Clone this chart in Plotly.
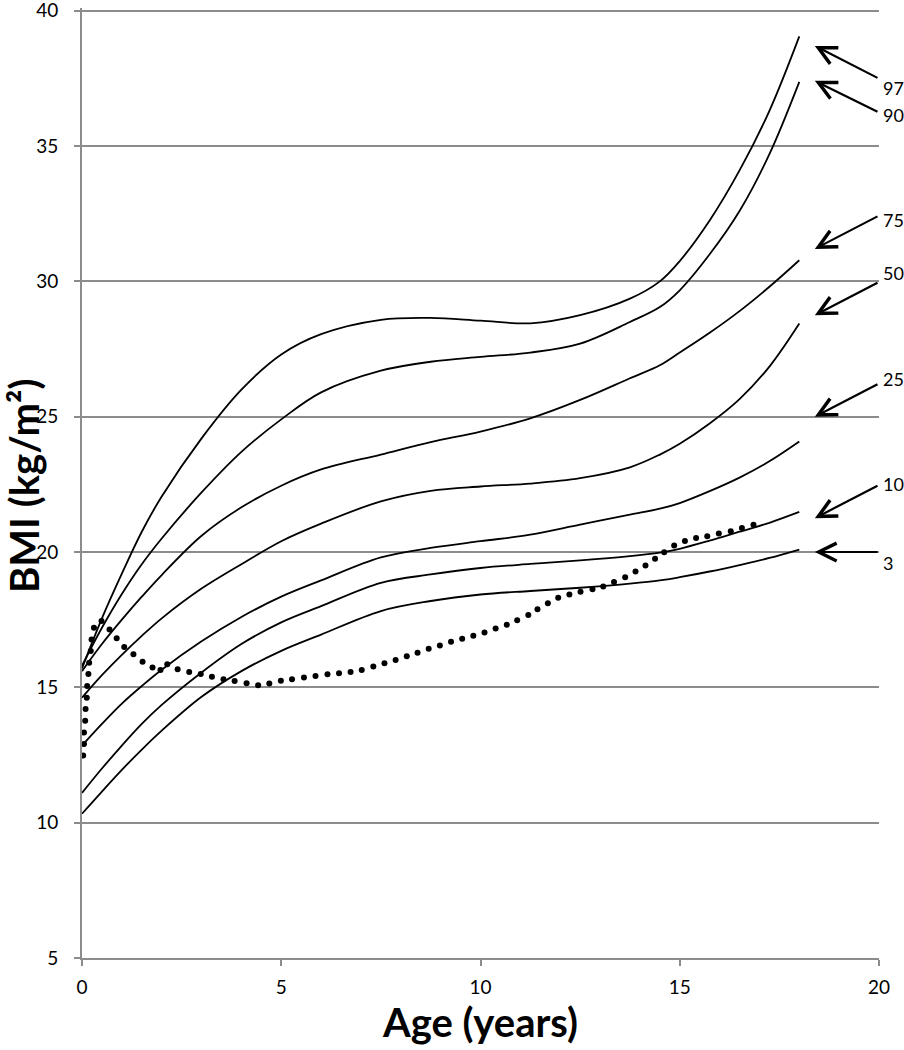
import plotly.graph_objects as go

# ---------------- data ----------------
ages = [0, 0.5, 1, 1.5, 2, 3, 4, 5, 6, 7.5, 8.75, 10, 11.25, 12.5, 13.75, 14.5, 15, 15.75, 16.5, 17.25, 18]

p97 = [15.7, 17.55, 19.2, 20.75, 22.05, 24.2, 26.0, 27.3, 28.05, 28.58, 28.65, 28.55, 28.45, 28.75, 29.36, 30.0, 30.75, 32.25, 34.1, 36.3, 39.05]
p90 = [15.8, 17.2, 18.45, 19.55, 20.5, 22.2, 23.7, 24.9, 25.9, 26.7, 27.03, 27.21, 27.37, 27.7, 28.5, 29.05, 29.67, 31.0, 32.6, 34.7, 37.37]
p75 = [15.6, 16.6, 17.5, 18.35, 19.15, 20.6, 21.65, 22.45, 23.05, 23.6, 24.06, 24.45, 24.94, 25.62, 26.42, 26.9, 27.37, 28.1, 28.9, 29.8, 30.78]
p50 = [14.62, 15.45, 16.2, 16.9, 17.55, 18.65, 19.55, 20.4, 21.05, 21.87, 22.26, 22.42, 22.53, 22.73, 23.13, 23.6, 24.0, 24.75, 25.65, 26.85, 28.44]
p25 = [12.85, 13.65, 14.4, 15.05, 15.65, 16.7, 17.6, 18.35, 18.95, 19.8, 20.15, 20.4, 20.64, 21.01, 21.38, 21.6, 21.81, 22.25, 22.75, 23.35, 24.08]
p10 = [11.1, 12.0, 12.85, 13.65, 14.35, 15.55, 16.6, 17.4, 18.0, 18.86, 19.17, 19.41, 19.56, 19.69, 19.85, 19.98, 20.12, 20.42, 20.75, 21.08, 21.48]
p3 = [10.33, 11.15, 11.95, 12.7, 13.4, 14.65, 15.6, 16.35, 16.95, 17.82, 18.19, 18.43, 18.56, 18.68, 18.83, 18.95, 19.07, 19.28, 19.52, 19.78, 20.09]

percentile_names = ["97", "90", "75", "50", "25", "10", "3"]
percentile_curves = [p97, p90, p75, p50, p25, p10, p3]

# patient BMI (dotted series)
patient_age = [0.03, 0.05, 0.05, 0.08, 0.09, 0.12, 0.13, 0.16, 0.18, 0.22, 0.24, 0.30, 0.49, 0.69, 0.87,
               1.06, 1.29, 1.52, 1.77, 1.97, 2.14, 2.40, 2.69, 2.98, 3.26, 3.55, 3.83, 4.13, 4.42, 4.70,
               4.99, 5.27, 5.57, 5.86, 6.16, 6.45, 6.74, 7.02, 7.31, 7.59, 7.87, 8.15, 8.42, 8.70, 8.98,
               9.26, 9.54, 9.82, 10.10, 10.38, 10.66, 10.92, 11.20, 11.43, 11.69, 11.95, 12.23, 12.51,
               12.81, 13.08, 13.35, 13.63, 13.89, 14.14, 14.38, 14.61, 14.86, 15.13, 15.41, 15.69, 15.98,
               16.28, 16.56, 16.85]
patient_bmi = [12.48, 12.91, 13.33, 13.77, 14.20, 14.62, 15.05, 15.49, 15.91, 16.34, 16.77, 17.20, 17.45,
               17.14, 16.81, 16.49, 16.22, 15.95, 15.73, 15.64, 15.85, 15.67, 15.57, 15.49, 15.39, 15.30,
               15.23, 15.15, 15.08, 15.14, 15.24, 15.30, 15.36, 15.42, 15.48, 15.52, 15.57, 15.64, 15.77,
               15.89, 16.01, 16.15, 16.28, 16.43, 16.55, 16.68, 16.80, 16.91, 17.03, 17.17, 17.31, 17.48,
               17.67, 17.89, 18.11, 18.31, 18.43, 18.53, 18.62, 18.73, 18.89, 19.07, 19.28, 19.50, 19.75,
               19.99, 20.24, 20.41, 20.52, 20.58, 20.68, 20.77, 20.89, 21.01]

# percentile arrow callouts (BMI values the arrows point at / start from / label at)
arrow_tip_age = 18.39
arrow_tail_age = 20
arrow_tip_bmi = [38.7, 37.41, 31.2, 28.75, 25.0, 21.25, 20.0]
arrow_tail_bmi = [37.49, 36.24, 32.43, 29.98, 26.23, 22.48, 20.0]
label_bmi = [37.13, 36.13, 32.26, 30.31, 26.4, 22.5, 19.59]

x_ticks = [0, 5, 10, 15, 20]
y_ticks = [5, 10, 15, 20, 25, 30, 35, 40]

# ---------------- figure ----------------
FONT = "Lato"
GRID = "#8c8c8c"

fig = go.Figure()
for name, vals in zip(percentile_names, percentile_curves):
    fig.add_trace(go.Scatter(
        x=ages, y=vals, mode="lines", name=name,
        line=dict(color="black", width=1.8, shape="spline", smoothing=1.0),
        showlegend=False, hoverinfo="skip"))

fig.add_trace(go.Scatter(
    x=patient_age, y=patient_bmi, mode="markers", name="patient",
    marker=dict(color="black", size=6, line=dict(width=0)),
    showlegend=False, hoverinfo="skip"))

for name, tip, tail, lab in zip(percentile_names, arrow_tip_bmi, arrow_tail_bmi, label_bmi):
    fig.add_annotation(x=arrow_tip_age, y=tip, ax=arrow_tail_age, ay=tail,
                       xref="x", yref="y", axref="x", ayref="y",
                       text="", showarrow=True, arrowhead=5, arrowsize=1.6,
                       arrowwidth=2.2, arrowcolor="black", standoff=0, startstandoff=0)
    fig.add_annotation(x=arrow_tail_age, y=lab, xref="x", yref="y", text=name,
                       showarrow=False, xanchor="left", yanchor="middle", xshift=2,
                       font=dict(family=FONT, size=18, color="black"))

# y-axis title placed as a rotated annotation for exact positioning
fig.add_annotation(text="<b>BMI (kg/m²)</b>", textangle=-90,
                   xref="paper", yref="paper", x=-0.0725, y=0.497,
                   xanchor="center", yanchor="middle", showarrow=False,
                   font=dict(family=FONT, size=40, color="black"))

fig.update_layout(
    width=904, height=1050,
    margin=dict(l=82, r=25, t=8, b=92),
    paper_bgcolor="white", plot_bgcolor="white",
    font=dict(family=FONT, color="black"),
)
fig.update_xaxes(
    range=[0, 20], tickvals=x_ticks, showgrid=False, zeroline=False,
    showline=True, linecolor=GRID, linewidth=2, automargin=False,
    ticks="outside", ticklen=6, tickwidth=2, tickcolor=GRID,
    tickfont=dict(family=FONT, size=19, color="black"), ticklabelstandoff=5,
    ticklabeloverflow="allow",
    title=dict(text="<b>Age (years)</b>", font=dict(family=FONT, size=40, color="black"), standoff=0),
)
fig.update_yaxes(
    range=[5, 40.1], tickvals=y_ticks, showgrid=True, gridcolor=GRID, gridwidth=2,
    zeroline=False, showline=True, linecolor=GRID, linewidth=2, automargin=False,
    ticks="outside", ticklen=6, tickwidth=2, tickcolor=GRID,
    tickfont=dict(family=FONT, size=19, color="black"), ticklabelstandoff=12,
    ticklabeloverflow="allow",
)

fig.write_html("out.html", config={"displayModeBar": False},
               post_script="document.body.style.margin='0';")
